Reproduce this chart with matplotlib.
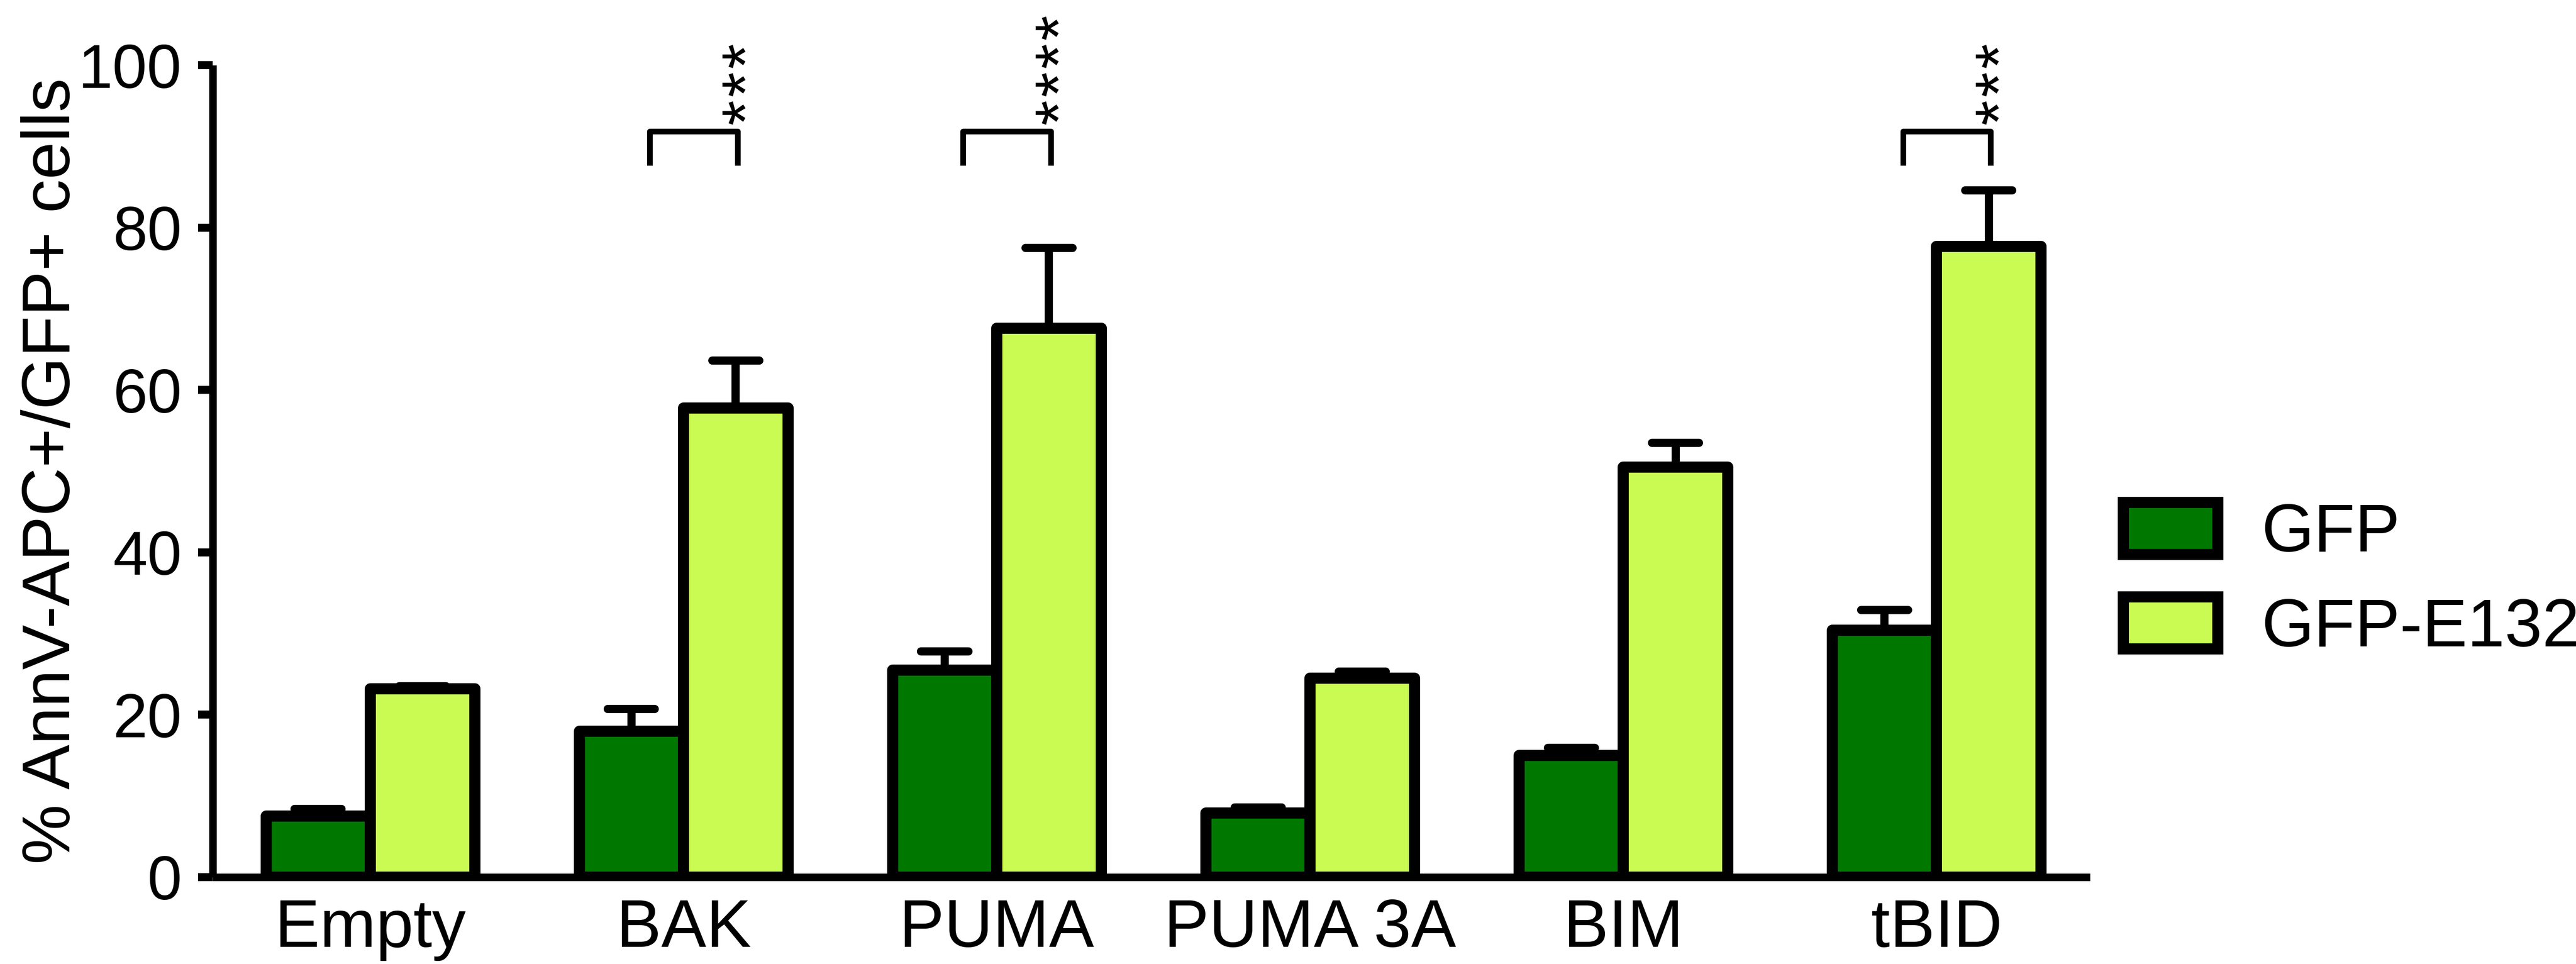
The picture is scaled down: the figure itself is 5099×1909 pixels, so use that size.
import numpy as np
import matplotlib
matplotlib.use("Agg")
import matplotlib.pyplot as plt
from matplotlib.patches import Patch
from matplotlib.textpath import TextPath
from matplotlib.font_manager import FontProperties

plt.rcParams['font.family'] = ['Liberation Sans', 'DejaVu Sans']

# Data (% AnnV-APC+ of GFP+ cells, mean and upper SEM)
groups = ['Empty', 'BAK', 'PUMA', 'PUMA 3A', 'BIM', 'tBID']
gfp = [7.5, 18.0, 25.5, 7.9, 15.0, 30.4]
gfp_err = [0.9, 2.7, 2.3, 0.7, 0.9, 2.5]
e132 = [23.2, 57.8, 67.6, 24.5, 50.5, 77.7]
e132_err = [0.3, 5.8, 9.9, 0.8, 3.0, 6.9]
series_names = ['GFP', 'GFP-E132']

# significance marks: (group index, number of stars)
sig = [(1, 3), (2, 4), (5, 3)]

dark_green = '#007800'
light_green = '#C9FB52'

fig = plt.figure(figsize=(5099 / 300, 1909 / 300), dpi=300)
ax = fig.add_axes([0.0826, 0.0901, 0.7288, 0.8423])

x = np.arange(len(groups))
w = 0.333
edge_lw = 5.3

ax.bar(x - w / 2, gfp, w, color=dark_green, edgecolor='black', linewidth=edge_lw,
       joinstyle='round', zorder=3)
ax.bar(x + w / 2, e132, w, color=light_green, edgecolor='black', linewidth=edge_lw,
       joinstyle='round', zorder=3)

# upper-only error bars with rounded caps
cap_half = 0.075
for xs, vals, errs in [(x - w / 2, gfp, gfp_err), (x + w / 2, e132, e132_err)]:
    for xi, v, e in zip(xs, vals, errs):
        ax.plot([xi, xi], [v, v + e], color='black', lw=3.9, zorder=2,
                solid_capstyle='butt')
        ax.plot([xi - cap_half, xi + cap_half], [v + e, v + e], color='black',
                lw=3.9, zorder=4, solid_capstyle='round')

# asterisk glyph centre (in em) so rotated stars sit centred on their spot
ext = TextPath((0, 0), '*', size=1, prop=FontProperties(family='Liberation Sans')).get_extents()
gx_mid = (ext.x0 + ext.x1) / 2
gy_mid = (ext.y0 + ext.y1) / 2

# significance brackets, stars stacked vertically
star_fs = 31
for gi, n in sig:
    x0 = gi - 0.108
    x1 = gi + 0.172
    ax.plot([x0, x0, x1, x1], [88.0, 91.85, 91.85, 88.0], color='black', lw=2.7,
            solid_joinstyle='round', clip_on=False, zorder=5)
    for k in range(n):
        ax.annotate('*', xy=(gi + 0.16, 94.3 + 3.48 * k),
                    xytext=(gy_mid * star_fs, -gx_mid * star_fs),
                    textcoords='offset points', rotation=90, rotation_mode='anchor',
                    ha='left', va='baseline', fontsize=star_fs, annotation_clip=False)

ax.set_xlim(-0.503, 5.49)
ax.set_ylim(0, 100)
ax.set_yticks([0, 20, 40, 60, 80, 100])
ax.set_xticks(x)
ax.set_xticklabels(groups, fontsize=32)
ax.tick_params(axis='x', length=0, pad=9.8)
ax.tick_params(axis='y', length=7, width=3.8, pad=7.7, labelsize=29.5)

for s in ['top', 'right']:
    ax.spines[s].set_visible(False)
for s in ['left', 'bottom']:
    ax.spines[s].set_linewidth(3.6)
    ax.spines[s].set_capstyle('butt')

ax.set_ylabel('% AnnV-APC+/GFP+ cells', fontsize=32)
ax.yaxis.set_label_coords(-0.0689, 0.5)

handles = [Patch(facecolor=dark_green, edgecolor='black', linewidth=edge_lw),
           Patch(facecolor=light_green, edgecolor='black', linewidth=edge_lw)]
fig.legend(handles, series_names, loc='center left', bbox_to_anchor=(0.8243, 0.397),
           frameon=False, fontsize=32, handlelength=1.40, handleheight=0.81,
           handletextpad=0.65, labelspacing=0.46, borderpad=0, borderaxespad=0)

fig.savefig('out.png', dpi=300)
